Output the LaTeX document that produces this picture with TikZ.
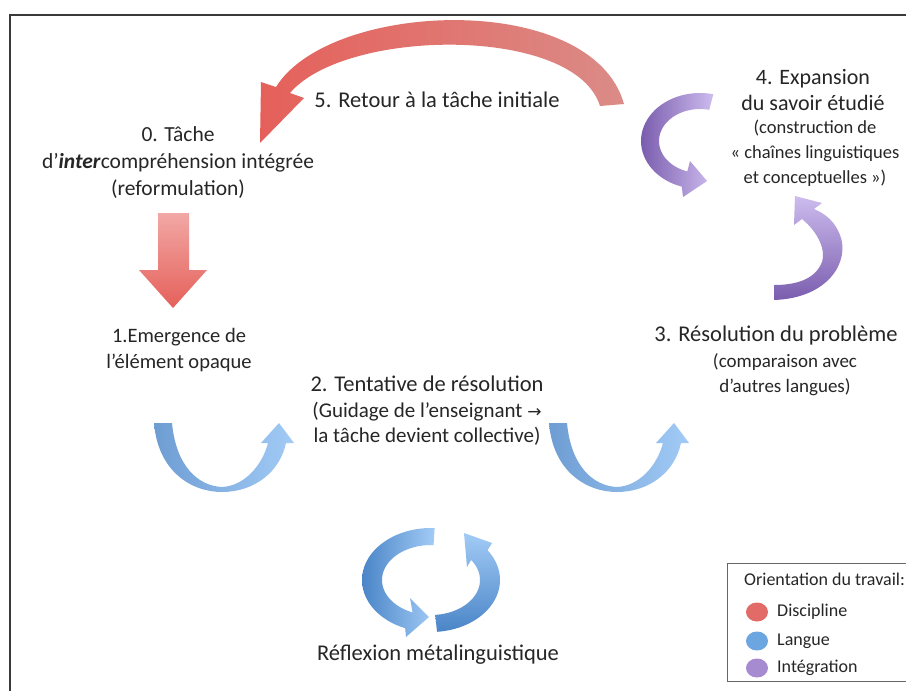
\documentclass[tikz,border=0pt]{standalone}
\usepackage{fontspec}
\setmainfont{Carlito}
\newfontfamily\symfont{DejaVu Sans}
\usetikzlibrary{shapes.geometric}
\definecolor{frameC}{HTML}{3A3A3A}
\definecolor{redA}{HTML}{E5605A}
\definecolor{redB}{HTML}{C25753}
\definecolor{redC}{HTML}{DB8B87}
\definecolor{redL}{HTML}{F2A8A5}
\definecolor{blueD}{HTML}{4A85C7}
\definecolor{blueM}{HTML}{6E9DD3}
\definecolor{blueL}{HTML}{A2CBF6}
\definecolor{purD}{HTML}{7A5DAE}
\definecolor{purM}{HTML}{9A82C8}
\definecolor{purL}{HTML}{CDBCEE}
\definecolor{dotR}{HTML}{E36B67}
\definecolor{dotB}{HTML}{6CA6E0}
\definecolor{dotP}{HTML}{A68BD0}
\begin{document}
\begin{tikzpicture}[x=1pt,y=-1pt,
  main/.style={font=\fontsize{22.5}{27}\selectfont, align=center, inner sep=0pt, text=black!85},
  sub/.style={font=\fontsize{20}{25}\selectfont, align=center, inner sep=0pt, text=black!85},
  leg/.style={font=\fontsize{18}{20}\selectfont, inner sep=0pt, anchor=west, text=black!85},
  dot/.style={ellipse, minimum width=22pt, minimum height=19pt, inner sep=0pt}]
\useasboundingbox (0,0) rectangle (906,691);
\clip (0,0) rectangle (906,691);
\fill[white] (0,0) rectangle (906,691);
% frame
\draw[frameC, line width=1.8pt] (10,700) -- (10,15) -- (915,15);

% 5. red curved arrow (return)
\shade[left color=redA, middle color=redB, right color=redC]
  (261,82) -- (276,87) .. controls (330,0) and (592,-10) .. (624,104)
  -- (600,106) .. controls (575,25) and (345,28) .. (290,93)
  -- (304,98) -- (260,143) -- cycle;

% red down arrow 0 -> 1
\shade[top color=redL, bottom color=redA]
  (158,213) -- (189,213) -- (189,270) -- (207,270) -- (173,308)
  -- (139,270) -- (158,270) -- cycle;

% blue U arrows
\foreach \dx in {0,395}{
\begin{scope}[shift={(\dx,0)}]
\shade[left color=blueM, middle color=blueD, right color=blueL]
  (154,423) .. controls (158,472) and (192,492) .. (222,492)
  .. controls (254,492) and (280,472) .. (286,443)
  -- (294,443) -- (279,423) -- (261,443) -- (268,443)
  .. controls (262,466) and (244,486) .. (222,487)
  .. controls (198,486) and (176,466) .. (172,423) -- cycle;
\end{scope}}

% blue circular arrows
\shade[left color=blueD, right color=blueL]
  plot[domain=273:112,samples=40] ({431+69*cos(\x)},{580+52*sin(\x)})
  -- (406,637) -- (429,617) -- (410,598) -- (412.6,612.5)
  -- plot[domain=112:273,samples=40] ({431+49*cos(\x)},{580+35*sin(\x)}) -- cycle;
\shade[top color=blueL, bottom color=blueD]
  plot[domain=85:-35,samples=40] ({431+69*cos(\x)},{580+52*sin(\x)})
  -- (492,543) -- (464,533) -- (467,567) -- (471.1,559.9)
  -- plot[domain=-35:85,samples=40] ({431+49*cos(\x)},{580+35*sin(\x)}) -- cycle;

% purple arrows
\shade[left color=purD, right color=purL]
  plot[domain=283:108,samples=40] ({700+59*cos(\x)},{141+48*sin(\x)})
  -- (683,197) -- (707,181) -- (690,161) -- (687.3,171.4)
  -- plot[domain=108:283,samples=40] ({700+41*cos(\x)},{141+32*sin(\x)}) -- cycle;
\shade[top color=purL, bottom color=purD]
  (774,300) .. controls (830,298) and (850,260) .. (840,235)
  .. controls (835,222) and (826,214) .. (814,209)
  -- (822,203) -- (795,196) -- (794,225) -- (802,219)
  .. controls (818,232) and (826,250) .. (822,262)
  .. controls (815,280) and (795,285) .. (774,285) -- cycle;

% texts
\node[main] (n5) at (437,100) {5. Retour à la tâche initiale};
\node[main, font=\fontsize{21.5}{27}\selectfont] (n0) at (178,163) {0. Tâche\\d’\textbf{\textit{inter}}compréhension intégrée\\(reformulation)};
\node[main, font=\fontsize{20.5}{26}\selectfont] (n1) at (179,350) {1.Emergence de\\l’élément opaque};
\node[main] (n2) at (427,384) {2. Tentative de résolution};
\node[sub, font=\fontsize{21}{25}\selectfont] (n2s) at (427,424) {(Guidage de l’enseignant {\symfont\fontsize{17}{20}\selectfont →}\\la tâche devient collective)};
\node[main] (n3) at (776,335) {3. Résolution du problème};
\node[sub, font=\fontsize{19}{25}\selectfont] (n3s) at (785,375) {(comparaison avec\\d’autres langues)};
\node[main, font=\fontsize{22}{26.5}\selectfont] (n4) at (813,90) {4. Expansion\\du savoir étudié};
\node[sub, font=\fontsize{18.5}{25}\selectfont] (n4s) at (815,153) {(construction de\\« chaînes linguistiques\\et conceptuelles »)};
\node[main] (nr) at (438,655) {Réflexion métalinguistique};

% legend
\draw[black!60, line width=1pt] (915,563) -- (727,563) -- (727,681) -- (915,681);
\node[leg] (lt) at (744,579) {Orientation du travail:};
\node[dot, fill=dotR] (d1) at (757,612) {};
\node[dot, fill=dotB] (d2) at (757,641) {};
\node[dot, fill=dotP] (d3) at (757,668) {};
\node[leg] (l1) at (777,612) {Discipline};
\node[leg] (l2) at (777,641) {Langue};
\node[leg] (l3) at (777,668) {Intégration};
\end{tikzpicture}
\end{document}
